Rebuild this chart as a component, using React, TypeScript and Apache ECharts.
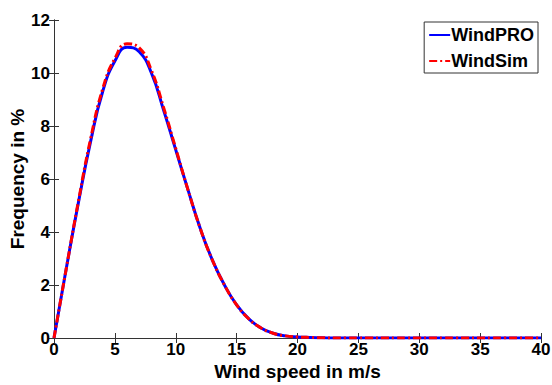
import React, { useEffect, useRef } from "react";
import * as echarts from "echarts";

const speeds = [0,1,2,3,4,5,6,7,8,9,10,11,12,13,14,15,16,17,18,19,20,21,22,23,24,25,26,27,28,29,30,31,32,33,34,35,36,37,38,39,40];
const windPRO = [0,2.6,5.1,7.4,9.3,10.45,10.97,10.8,10.0,8.6,7.1,5.6,4.15,2.95,2.0,1.25,0.72,0.38,0.18,0.08,0.04,0.02,0.01,0,0,0,0,0,0,0,0,0,0,0,0,0,0,0,0,0,0];
const windSim = [0,2.6,5.15,7.5,9.4,10.55,11.1,10.95,10.1,8.7,7.15,5.6,4.15,2.95,2.0,1.25,0.72,0.38,0.18,0.08,0.04,0.02,0.01,0,0,0,0,0,0,0,0,0,0,0,0,0,0,0,0,0,0];
const xTicks = [0,5,10,15,20,25,30,35,40];
const yTicks = [0,2,4,6,8,10,12];
const seriesNames = ["WindPRO", "WindSim"];
const xTitle = "Wind speed in m/s";
const yTitle = "Frequency in %";

const FONT = "'Liberation Sans', Arial, sans-serif";

export default function App() {
  const ref = useRef<HTMLDivElement>(null);
  useEffect(() => {
    if (!ref.current) return;
    const chart = echarts.init(ref.current, null, { renderer: "svg" });
    const axisLine = { show: true, lineStyle: { color: "#333", width: 1 } };
    const tick = { show: true, inside: true, length: 5, lineStyle: { color: "#333" } };
    const labelStyle = { color: "#000", fontFamily: FONT, fontWeight: "bold", fontSize: 17 };
    chart.setOption({
      animation: false,
      backgroundColor: "#fff",
      grid: { left: 54, right: 11, top: 20, bottom: 47, outerBoundsMode: "none", containLabel: false },
      legend: {
        right: 14,
        top: 22,
        orient: "vertical",
        data: seriesNames,
        backgroundColor: "#fff",
        borderColor: "#333",
        borderWidth: 1,
        borderRadius: 0,
        padding: [4, 4, 3, 4],
        itemWidth: 21,
        itemHeight: 10,
        itemGap: 8,
        itemStyle: { opacity: 0 },
        textStyle: { color: "#000", fontFamily: FONT, fontWeight: "bold", fontSize: 18, padding: [0, 0, 0, -4] },
      },
      xAxis: [
        {
          type: "value",
          min: 0,
          max: 40,
          interval: 5,
          axisLine,
          axisTick: tick,
          splitLine: { show: false },
          axisLabel: { ...labelStyle, margin: 3, customValues: xTicks },
          name: xTitle,
          nameLocation: "middle",
          nameGap: 24,
          nameMoveOverlap: false,
          nameTextStyle: { color: "#000", fontFamily: FONT, fontWeight: "bold", fontSize: 19 },
        },
        {
          type: "value",
          position: "top",
          min: 0,
          max: 40,
          interval: 5,
          axisLine,
          axisTick: tick,
          splitLine: { show: false },
          axisLabel: { show: false },
        },
      ],
      yAxis: [
        {
          type: "value",
          min: 0,
          max: 12,
          interval: 2,
          axisLine,
          axisTick: tick,
          splitLine: { show: false },
          axisLabel: { ...labelStyle, margin: 4, customValues: yTicks },
          name: yTitle,
          nameLocation: "middle",
          nameGap: 27,
          nameMoveOverlap: false,
          nameTextStyle: { color: "#000", fontFamily: FONT, fontWeight: "bold", fontSize: 19 },
        },
        {
          type: "value",
          position: "right",
          min: 0,
          max: 12,
          interval: 2,
          axisLine,
          axisTick: tick,
          splitLine: { show: false },
          axisLabel: { show: false },
        },
      ],
      series: [
        {
          name: seriesNames[0],
          type: "line",
          data: speeds.map((s, i) => [s, windPRO[i]]),
          smooth: 0.5,
          symbol: "none",
          lineStyle: { color: "#0000ff", width: 3 },
          itemStyle: { color: "#0000ff" },
        },
        {
          name: seriesNames[1],
          type: "line",
          data: speeds.map((s, i) => [s, windSim[i]]),
          smooth: 0.5,
          symbol: "none",
          lineStyle: { color: "#ff0000", width: 3, type: [8, 3, 2, 3] },
          itemStyle: { color: "#ff0000" },
        },
      ],
    });
    return () => chart.dispose();
  }, []);
  return <div ref={ref} style={{ width: 552, height: 385, position: "absolute", left: 0, top: 0 }} />;
}
